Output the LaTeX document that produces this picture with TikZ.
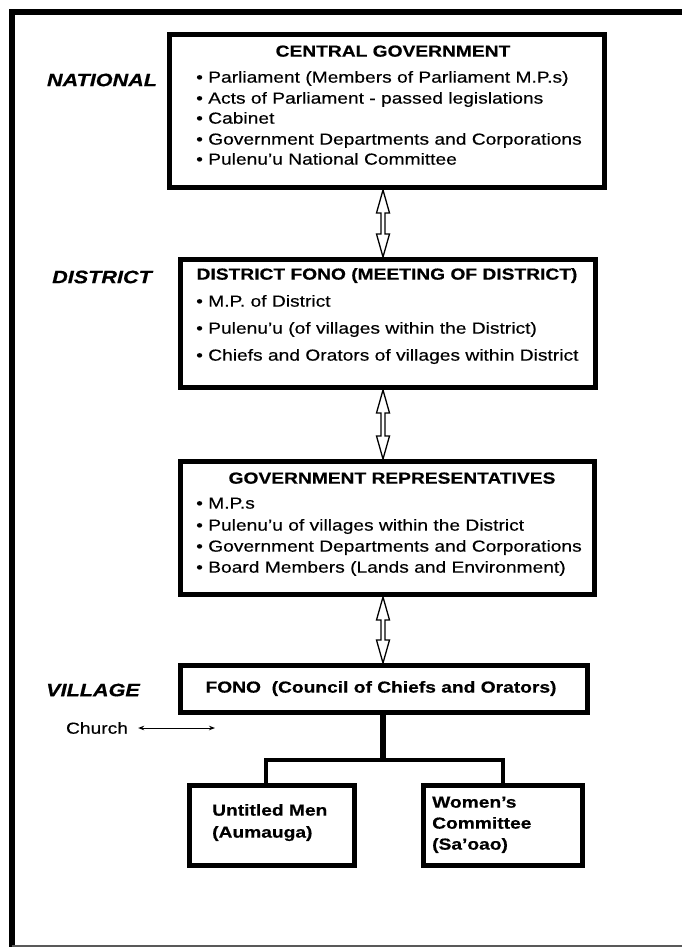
\documentclass[tikz,border=0pt]{standalone}
\usepackage{fontspec}
\setmainfont{Liberation Sans}[FakeStretch=1.2,
  UprightFeatures={FakeBold=0.35},
  BoldFeatures={FakeBold=0.5},
  BoldItalicFeatures={FakeBold=0.5}]
\usetikzlibrary{arrows.meta,calc}

% hollow two-way arrow between the bottom of one box and the top of the next
\newcommand\twoway[2]{%
  \draw[hollowarrow] let \p1=($(spine |- #1.south)$), \p2=($(spine |- #2.north)$) in
    (\x1,\y1) -- (\x1-6.5pt,\y1-23pt) -- (\x1-2pt,\y1-23pt) -- (\x1-2pt,\y2+23pt)
    -- (\x1-6.5pt,\y2+23pt) -- (\x1,\y2) -- (\x1+6.5pt,\y2+23pt) -- (\x1+2pt,\y2+23pt)
    -- (\x1+2pt,\y1-23pt) -- (\x1+6.5pt,\y1-23pt) -- cycle;}

\begin{document}
\begin{tikzpicture}[x=1pt,y=-1pt,
  box/.style={draw, line width=5pt, inner sep=0pt, outer sep=2.5pt},
  txt/.style={font=\fontsize{16}{18}\selectfont, inner sep=0pt},
  ttl/.style={font=\fontsize{16}{18}\selectfont\bfseries, inner sep=0pt},
  lvl/.style={font=\fontsize{18}{20}\selectfont\bfseries\itshape, inner sep=0pt},
  hollowarrow/.style={draw, line width=1.3pt, fill=white, line join=miter},
  tree/.style={line width=4pt, line join=miter},
  tinytip/.style={line width=1pt, {Stealth[length=6pt,width=4.5pt]}-{Stealth[length=6pt,width=4.5pt]}}]
\useasboundingbox (0,0) rectangle (682,947);
\fill[white] (0,0) rectangle (682,947);

% outer frame: heavy top and left rules, thin grey base
\draw[line width=6pt, line join=miter] (682,12) -- (11.5,12) -- (11.5,947);
\draw[gray!70!black, line width=1.5pt] (11.5,945.8) -- (682,945.8);

\coordinate (spine) at (383,0);

% level labels
\node[lvl] (national) at (102,80) {NATIONAL};
\node[lvl] (district) at (102,277) {DISTRICT};
\node[lvl] (village) at (93,690) {VILLAGE};

% central government
\node[box, minimum width=435, minimum height=153] (cg) at (387,111) {};
\node[ttl, anchor=mid] (cgt) at (393,54) {CENTRAL GOVERNMENT};
\node[txt, anchor=mid west] (cg1) at (196,80) {\textbullet\ Parliament (Members of Parliament M.P.s)};
\node[txt, anchor=mid west] (cg2) at (196,101) {\textbullet\ Acts of Parliament - passed legislations};
\node[txt, anchor=mid west] (cg3) at (196,121) {\textbullet\ Cabinet};
\node[txt, anchor=mid west] (cg4) at (196,142) {\textbullet\ Government Departments and Corporations};
\node[txt, anchor=mid west] (cg5) at (196,162) {\textbullet\ Pulenu'u National Committee};

% district fono
\node[box, minimum width=415, minimum height=128] (df) at (388,323.5) {};
\node[ttl, anchor=mid] (dft) at (387,277) {DISTRICT FONO (MEETING OF DISTRICT)};
\node[txt, anchor=mid west] (df1) at (196,304) {\textbullet\ M.P. of District};
\node[txt, anchor=mid west] (df2) at (196,331) {\textbullet\ Pulenu'u (of villages within the District)};
\node[txt, anchor=mid west] (df3) at (196,358) {\textbullet\ Chiefs and Orators of villages within District};

% government representatives
\node[box, minimum width=414, minimum height=133] (gr) at (387.5,528) {};
\node[ttl, anchor=mid] (grt) at (392,481) {GOVERNMENT REPRESENTATIVES};
\node[txt, anchor=mid west] (gr1) at (196,506) {\textbullet\ M.P.s};
\node[txt, anchor=mid west] (gr2) at (196,528) {\textbullet\ Pulenu'u of villages within the District};
\node[txt, anchor=mid west] (gr3) at (196,549) {\textbullet\ Government Departments and Corporations};
\node[txt, anchor=mid west] (gr4) at (196,570) {\textbullet\ Board Members (Lands and Environment)};

% village fono
\node[box, minimum width=407, minimum height=47] (fono) at (384,689) {};
\node[ttl, anchor=mid] (fonot) at (381,690) {FONO\ \ (Council of Chiefs and Orators)};

% church link
\node[txt] (church) at (97,728) {Church};
\coordinate (churchend) at (215,728);
\draw[tinytip] ([xshift=10pt]church.east) -- (churchend);

% village groups
\node[box, minimum width=165, minimum height=80] (men) at (272,825.5) {};
\node[ttl, anchor=mid west] (ment1) at (212,813) {Untitled Men};
\node[ttl, anchor=mid west] (ment2) at (212,835) {(Aumauga)};
\node[box, minimum width=159, minimum height=80] (women) at (503,825.5) {};
\node[ttl, anchor=mid west] (woment1) at (432,805) {Women's};
\node[ttl, anchor=mid west] (woment2) at (432,826) {Committee};
\node[ttl, anchor=mid west] (woment3) at (432,847) {(Sa'oao)};

% links between levels
\twoway{cg}{df}
\twoway{df}{gr}
\twoway{gr}{fono}

\coordinate (hub) at (383,760);
\coordinate (hl) at (266,760);
\coordinate (hr) at (503,760);
\draw[line width=6pt] (spine |- fono.south) -- (hub);
\draw[tree] (hl |- men.north) -- (hl) -- (hr) -- (hr |- women.north);
\end{tikzpicture}
\end{document}
